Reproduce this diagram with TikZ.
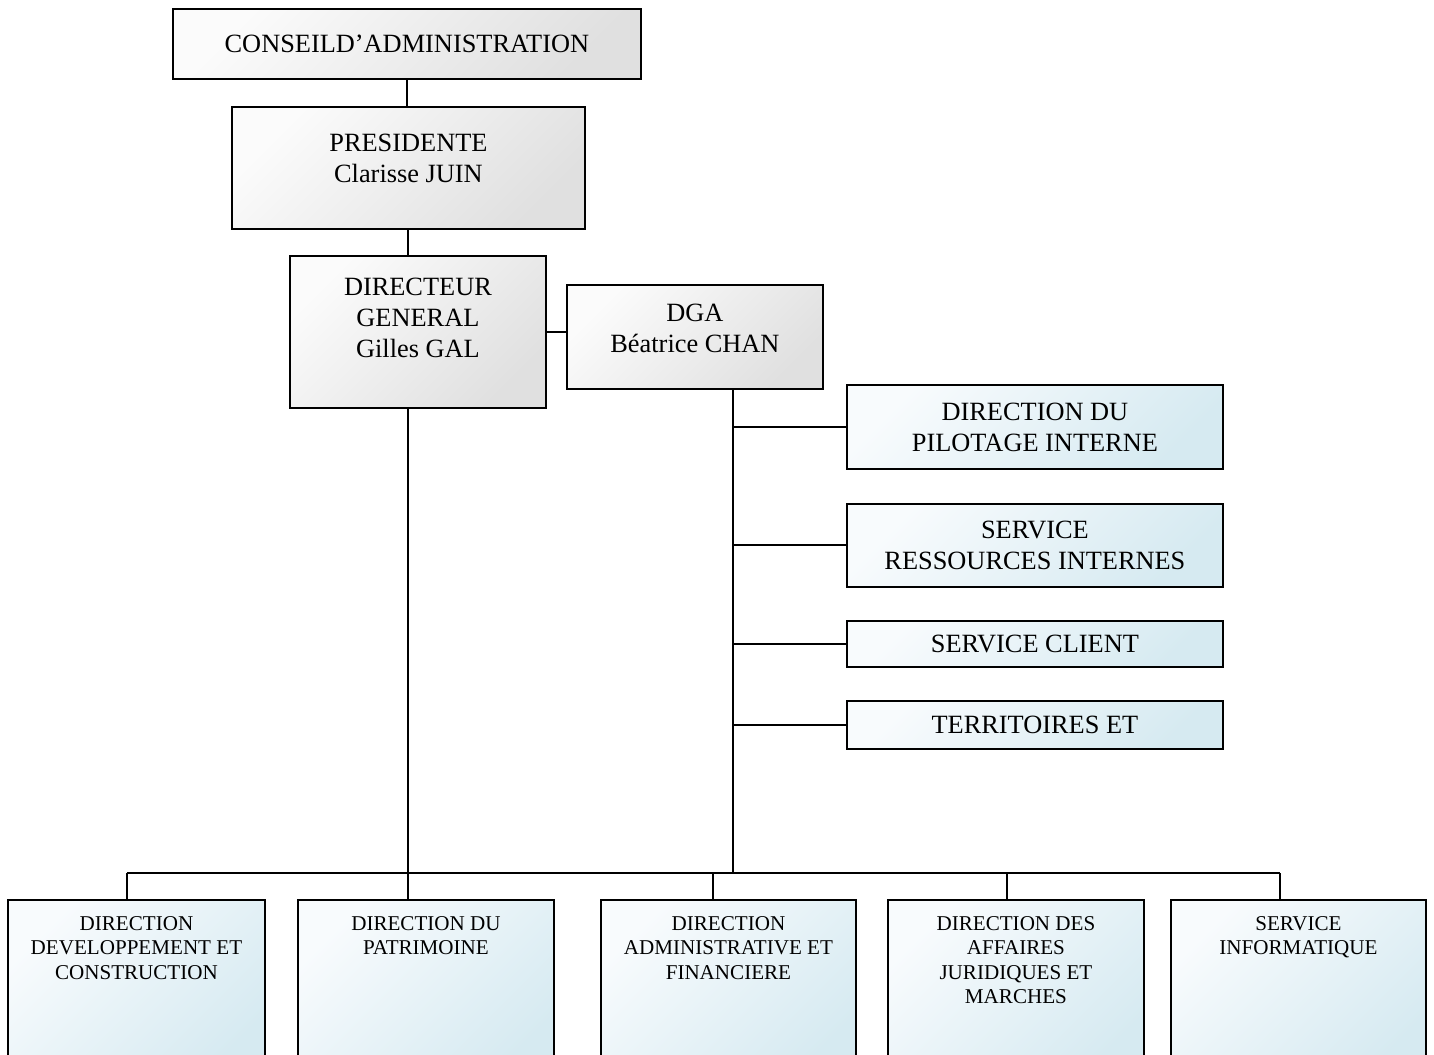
\documentclass[tikz,border=0pt]{standalone}
\usepackage{fontspec}
\setmainfont{Liberation Serif}
\usepackage[dvipsnames]{xcolor}
\usetikzlibrary{calc}
\definecolor{greyhi}{HTML}{FBFBFB}
\definecolor{greylo}{HTML}{E0E0E0}
\definecolor{bluehi}{HTML}{F8FBFD}
\definecolor{bluelo}{HTML}{D6EAF1}
\tikzset{
  greybox/.style={draw, line width=1.1pt, inner sep=0pt, anchor=north west,
    top color=greyhi, bottom color=greylo, shading angle=45},
  bluebox/.style={draw, line width=1.1pt, inner sep=0pt, anchor=north west,
    top color=bluehi, bottom color=bluelo, shading angle=45},
  bigtext/.style={font=\fontsize{15}{17.6}\selectfont, align=center, inner sep=0pt},
  smalltext/.style={font=\fontsize{12}{13.9}\selectfont, align=center, inner sep=0pt, anchor=north},
  link/.style={line width=1.1pt}
}

\begin{document}
\begin{tikzpicture}[x=0.02cm,y=-0.02cm]
\def\lowh{3.6cm}

\useasboundingbox (0,0) rectangle (1434,1055);

% upper part
\node[greybox, bigtext, minimum width=9.36cm, minimum height=1.4cm] (conseil) at (172,8) {CONSEILD’ADMINISTRATION};
\node[greybox, minimum width=7.06cm, minimum height=2.44cm] (pres) at (231,106) {};
\node[greybox, minimum width=5.12cm, minimum height=3.04cm] (dg) at (289,255) {};
\node[greybox, minimum width=5.12cm, minimum height=2.08cm] (dga) at (566,284) {};

\node[bigtext] (presT) at ([yshift=0.19cm]pres.center) {PRESIDENTE\\Clarisse JUIN};
\node[bigtext] (dgT) at ([yshift=0.28cm]dg.center) {DIRECTEUR\\GENERAL\\Gilles GAL};
\node[bigtext] (dgaT) at ([yshift=0.18cm]dga.center) {DGA\\Béatrice CHAN};

% services attached to the DGA
\node[bluebox, bigtext, minimum width=7.52cm, minimum height=1.68cm] (pilot) at (846,384) {DIRECTION DU\\PILOTAGE INTERNE};
\node[bluebox, bigtext, minimum width=7.52cm, minimum height=1.66cm] (ressources) at (846,503) {SERVICE\\RESSOURCES INTERNES};
\node[bluebox, bigtext, minimum width=7.52cm, minimum height=0.92cm] (client) at (846,620) {SERVICE CLIENT};
\node[bluebox, bigtext, minimum width=7.52cm, minimum height=0.96cm] (territoires) at (846,700) {TERRITOIRES ET};

% lower row
\node[bluebox, minimum width=5.14cm, minimum height=\lowh] (b1) at (7,899) {};
\node[bluebox, minimum width=5.12cm, minimum height=\lowh] (b2) at (297,899) {};
\node[bluebox, minimum width=5.10cm, minimum height=\lowh] (b3) at (600,899) {};
\node[bluebox, minimum width=5.12cm, minimum height=\lowh] (b4) at (887,899) {};
\node[bluebox, minimum width=5.10cm, minimum height=\lowh] (b5) at (1170,899) {};

\node[smalltext] (b1T) at ([yshift=-0.34cm]b1.north) {DIRECTION\\DEVELOPPEMENT ET\\CONSTRUCTION};
\node[smalltext] (b2T) at ([yshift=-0.34cm]b2.north) {DIRECTION DU\\PATRIMOINE};
\node[smalltext] (b3T) at ([yshift=-0.34cm]b3.north) {DIRECTION\\ADMINISTRATIVE ET\\FINANCIERE};
\node[smalltext] (b4T) at ([yshift=-0.34cm]b4.north) {DIRECTION DES\\AFFAIRES\\JURIDIQUES ET\\MARCHES};
\node[smalltext] (b5T) at ([yshift=-0.34cm]b5.north) {SERVICE\\INFORMATIQUE};

\coordinate (bus) at (0,873);
\coordinate (dgaDrop) at ([xshift=0.77cm]dga.south);
\coordinate (d1) at ([xshift=-0.19cm]b1.north);
\coordinate (d2) at ([xshift=-0.36cm]b2.north);
\coordinate (d3) at ([xshift=-0.31cm]b3.north);
\coordinate (d4) at ([xshift=-0.18cm]b4.north);
\coordinate (d5) at ([xshift=-0.37cm]b5.north);

\draw[link] (conseil.south) -- (conseil.south |- pres.north);
\draw[link] (pres.south) -- (pres.south |- dg.north);
\draw[link] (dg.east) -- (dg.east -| dga.west);
\draw[link] (d2 |- dg.south) -- (d2);
\draw[link] (dgaDrop) -- (dgaDrop |- bus);

\foreach \s in {pilot,ressources,client,territoires}
  \draw[link] (dgaDrop |- \s.west) -- (\s.west);

\draw[link] (d1 |- bus) -- (d5 |- bus);
\foreach \d in {d1,d3,d4,d5}
  \draw[link] (\d |- bus) -- (\d);

\end{tikzpicture}
\end{document}
